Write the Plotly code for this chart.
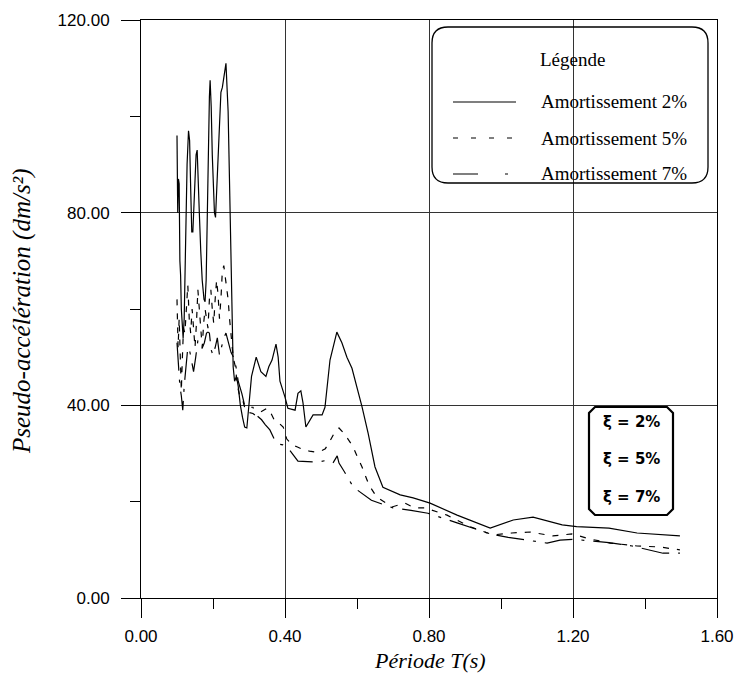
import plotly.graph_objects as go

# ---------------- data ----------------
periods_2 = [0.100, 0.102, 0.104, 0.106, 0.108, 0.110, 0.112, 0.114, 0.117, 0.120,
             0.124, 0.128, 0.132, 0.135, 0.138, 0.141, 0.144, 0.147, 0.150, 0.153,
             0.156, 0.159, 0.162, 0.166, 0.170, 0.175, 0.178, 0.181, 0.184, 0.187,
             0.190, 0.192, 0.195, 0.198, 0.201, 0.204, 0.207, 0.210, 0.213, 0.216,
             0.219, 0.222, 0.226, 0.230, 0.233, 0.236, 0.239, 0.242, 0.246, 0.250,
             0.253, 0.256, 0.260, 0.265, 0.270, 0.276, 0.282, 0.288, 0.294, 0.300,
             0.307, 0.320, 0.333, 0.347, 0.355, 0.364, 0.375, 0.381, 0.386, 0.400,
             0.408, 0.428, 0.436, 0.444, 0.450, 0.458, 0.478, 0.503, 0.511, 0.525,
             0.544, 0.558, 0.567, 0.572, 0.586, 0.614, 0.631, 0.650, 0.672, 0.720,
             0.756, 0.803, 0.878, 0.970, 1.034, 1.089, 1.170, 1.210, 1.300, 1.378,
             1.497]
accel_2 = [96, 80, 87, 86, 70, 67, 60, 56, 54, 58,
           75, 90, 97, 95, 85, 76, 76, 82, 86, 92,
           93, 88, 80, 72, 66, 62, 61.5, 66, 80, 95,
           104, 107.5, 102, 92, 84, 80, 79, 84, 90, 92,
           100, 105, 106, 108, 109, 111, 106, 101, 86, 70,
           56, 48, 45, 46, 44, 40, 37.5, 35.5, 35.3, 40,
           46, 50, 47, 46, 48, 49.4, 52.7, 50, 45, 41.7,
           39.4, 39, 42.5, 43, 40.5, 35.5, 38, 38, 39.6, 49.4,
           55.2, 53, 50.9, 50, 47.7, 39.7, 34.2, 27.2, 23, 21.4,
           20.8, 19.7, 17.2, 14.5, 16.2, 16.8, 15.2, 14.8, 14.5, 13.5,
           12.9]

periods_5 = [0.100, 0.103, 0.106, 0.109, 0.112, 0.115, 0.118, 0.122, 0.126, 0.130,
             0.134, 0.138, 0.142, 0.146, 0.150, 0.154, 0.158, 0.162, 0.166, 0.170,
             0.174, 0.178, 0.182, 0.186, 0.190, 0.194, 0.198, 0.202, 0.206, 0.210,
             0.214, 0.218, 0.222, 0.226, 0.230, 0.234, 0.238, 0.242, 0.246, 0.250,
             0.256, 0.262, 0.268, 0.275, 0.283, 0.290, 0.300, 0.311, 0.320, 0.330,
             0.340, 0.350, 0.360, 0.370, 0.380, 0.395, 0.405, 0.420, 0.433, 0.450,
             0.468, 0.483, 0.500, 0.512, 0.522, 0.535, 0.550, 0.560, 0.575, 0.589,
             0.600, 0.614, 0.633, 0.650, 0.664, 0.697, 0.733, 0.760, 0.789, 0.850,
             0.914, 0.978, 1.030, 1.080, 1.144, 1.197, 1.250, 1.303, 1.378, 1.440,
             1.497]
accel_5 = [62, 52, 58, 47, 43, 50, 56, 55, 60, 65,
           58, 55, 60, 56, 52, 57, 64, 60, 55, 52,
           57, 60, 58, 56, 62, 64, 60, 57, 62, 66,
           63, 58, 62, 68, 69, 67, 64, 62, 58, 55,
           50, 48, 44, 41.7, 41, 39, 38.5, 38.3, 37.8, 38.5,
           39, 39.4, 38.5, 37, 36.5, 35.5, 33, 31.8, 31.4, 30.8,
           30.5, 30.3, 30.5, 31, 32.2, 34, 35.3, 34.5, 33, 31.4,
           29.5, 27.2, 23.5, 21.5, 20.5, 18.9, 19.7, 18.7, 18.7, 17.2,
           14.8, 13.1, 13.5, 13.7, 12.9, 13.3, 12.2, 11.4, 10.8, 10.6,
           10.0]

periods_7 = [0.100, 0.104, 0.108, 0.112, 0.116, 0.120, 0.125, 0.130, 0.136, 0.141,
             0.146, 0.152, 0.158, 0.164, 0.170, 0.176, 0.182, 0.186, 0.190, 0.195,
             0.200, 0.206, 0.212, 0.218, 0.224, 0.230, 0.236, 0.242, 0.250, 0.261,
             0.270, 0.280, 0.289, 0.300, 0.311, 0.320, 0.335, 0.345, 0.358, 0.370,
             0.380, 0.394, 0.410, 0.436, 0.460, 0.489, 0.510, 0.533, 0.545, 0.550,
             0.565, 0.590, 0.640, 0.664, 0.700, 0.750, 0.797, 0.878, 0.970, 1.020,
             1.075, 1.128, 1.164, 1.200, 1.300, 1.364, 1.450, 1.497]
accel_7 = [53, 47, 44, 42, 39, 44, 49, 52, 51, 48.8,
           47, 50, 53.5, 52, 51.9, 53, 55, 55.2, 55, 51.5,
           50.4, 52, 54, 50.4, 52, 54, 55, 53, 51, 49.4,
           45, 42.5, 39.6, 39.6, 39.6, 38, 37, 36, 34.9, 33,
           32, 31.8, 31, 28.4, 28.3, 28.2, 28.5, 28, 29.5, 28,
           26.2, 23, 20.3, 19.7, 18.7, 18.2, 17.6, 15.6, 13.3, 12.6,
           12, 11.4, 12, 12.2, 11.5, 10.8, 9.3, 9.3]

x_ticks = [0.0, 0.4, 0.8, 1.2, 1.6]
x_tick_labels = ["0.00", "0.40", "0.80", "1.20", "1.60"]
y_ticks = [0, 40, 80, 120]
y_tick_labels = ["0.00", "40.00", "80.00", "120.00"]

series_names = ["Amortissement 2%", "Amortissement 5%", "Amortissement 7%"]
xi_labels = ["ξ = 2%", "ξ = 5%", "ξ = 7%"]

# ---------------- styling ----------------
W, H = 737, 673
ML, MR, MT, MB = 141, 20, 20, 75
PW, PH = W - ML - MR, H - MT - MB

dash_2 = "solid"
dash_5 = "6px,8px"
dash_7 = "28px,9px,3px,9px"
legend_dash = ["solid", "5px,13px", "25px,27px,3px,30px"]


def px2paper(px, py):
    return (px - ML) / PW, (H - MB - py) / PH


fig = go.Figure()
for xs, ys, d, name in [(periods_2, accel_2, dash_2, series_names[0]),
                        (periods_5, accel_5, dash_5, series_names[1]),
                        (periods_7, accel_7, dash_7, series_names[2])]:
    fig.add_trace(go.Scatter(x=xs, y=ys, mode="lines", name=name,
                             line=dict(color="black", width=1.2, dash=d),
                             showlegend=False))

serif = "Liberation Serif, Times New Roman, serif"
sans = "Liberation Sans, Arial, sans-serif"

axis_common = dict(showline=True, linecolor="black", linewidth=1, mirror=True,
                   showgrid=True, gridcolor="#333333", gridwidth=1,
                   ticks="outside", ticklen=19, tickcolor="black", tickwidth=1,
                   zeroline=False, automargin=False,
                   tickfont=dict(family=sans, size=17, color="black"))

fig.update_xaxes(range=[0, 1.6], tickvals=x_ticks, ticktext=x_tick_labels,
                 minor=dict(dtick=0.2, tick0=0, ticks="outside", ticklen=10,
                            tickcolor="black", showgrid=False),
                 ticklabelstandoff=4, **axis_common)
fig.update_yaxes(range=[0, 120], tickvals=y_ticks, ticktext=y_tick_labels,
                 minor=dict(dtick=20, tick0=0, ticks="outside", ticklen=10,
                            tickcolor="black", showgrid=False),
                 ticklabelstandoff=8, **axis_common)

shapes = []
annotations = []

# ---- legend box (rounded corners) ----
x0, y0 = px2paper(432, 27)
x1, y1 = px2paper(708, 183)
rx, ry = 16 / PW, 16 / PH
path = (f"M {x0+rx},{y0} L {x1-rx},{y0} Q {x1},{y0} {x1},{y0-ry} "
        f"L {x1},{y1+ry} Q {x1},{y1} {x1-rx},{y1} L {x0+rx},{y1} "
        f"Q {x0},{y1} {x0},{y1+ry} L {x0},{y0-ry} Q {x0},{y0} {x0+rx},{y0} Z")
shapes.append(dict(type="path", xref="paper", yref="paper", path=path,
                   line=dict(color="black", width=1.3), layer="above"))
tx, ty = px2paper(572, 60)
annotations.append(dict(xref="paper", yref="paper", x=tx, y=ty, text="Légende",
                        showarrow=False, xanchor="center", yanchor="middle",
                        font=dict(family=serif, size=19, color="black")))
for i, (name, py) in enumerate(zip(series_names, [102, 138, 174])):
    lx0, ly = px2paper(453, py)
    lx1, _ = px2paper(516, py)
    shapes.append(dict(type="line", xref="paper", yref="paper",
                       x0=lx0, x1=lx1, y0=ly, y1=ly,
                       line=dict(color="black", width=1.2, dash=legend_dash[i])))
    ax, _ = px2paper(539, py)
    annotations.append(dict(xref="paper", yref="paper", x=ax, y=ly, text=name,
                            showarrow=False, xanchor="left", yanchor="middle",
                            font=dict(family=serif, size=19, color="black")))

# ---- ξ box (chamfered corners) ----
bx0, by0 = px2paper(589, 407)
bx1, by1 = px2paper(673, 515)
cx, cy = 6 / PW, 6 / PH
bpath = (f"M {bx0+cx},{by0} L {bx1-cx},{by0} L {bx1},{by0-cy} L {bx1},{by1+cy} "
         f"L {bx1-cx},{by1} L {bx0+cx},{by1} L {bx0},{by1+cy} L {bx0},{by0-cy} Z")
shapes.append(dict(type="path", xref="paper", yref="paper", path=bpath,
                   line=dict(color="black", width=2.2), fillcolor="white",
                   layer="above"))
for lab, py in zip(xi_labels, [422, 459, 497]):
    qx, qy = px2paper(631, py)
    annotations.append(dict(xref="paper", yref="paper", x=qx, y=qy, text=f"<b>{lab}</b>",
                            showarrow=False, xanchor="center", yanchor="middle",
                            font=dict(family="DejaVu Sans", size=15, color="black")))

# ---- axis titles ----
atx, aty = px2paper(430, 660)
annotations.append(dict(xref="paper", yref="paper", x=atx, y=aty,
                        text="<i>Période T(s)</i>", showarrow=False, borderpad=0,
                        xanchor="center", yanchor="middle",
                        font=dict(family=serif, size=22, color="black")))
ytx, yty = px2paper(22, 311)
annotations.append(dict(xref="paper", yref="paper", x=ytx, y=yty,
                        text="<i>Pseudo-accélération (dm/s²)</i>", showarrow=False,
                        textangle=-90, xanchor="center", yanchor="middle", borderpad=0,
                        font=dict(family=serif, size=25, color="black")))

fig.update_layout(width=W, height=H, margin=dict(l=ML, r=MR, t=MT, b=MB, autoexpand=False),
                  paper_bgcolor="white", plot_bgcolor="white",
                  shapes=shapes, annotations=annotations, showlegend=False)

fig.write_html("out.html")
